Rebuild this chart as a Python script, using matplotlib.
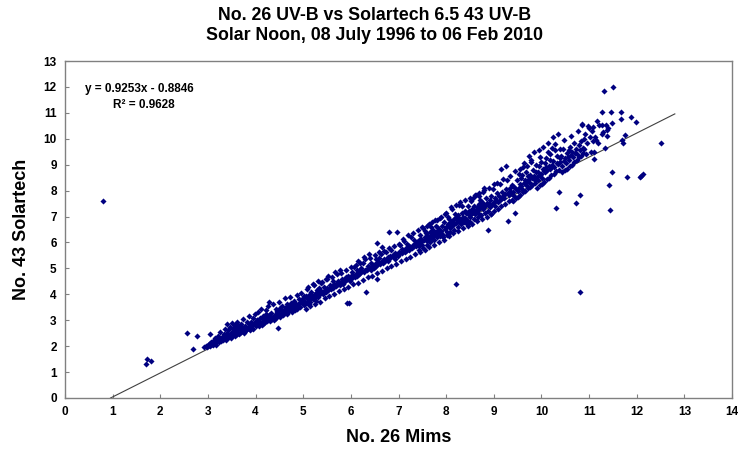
import numpy as np
import matplotlib
matplotlib.use("Agg")
import matplotlib.pyplot as plt

# ---------------- data ----------------
# main cloud, x = No. 26 Mims, y = No. 43 Solartech
mims_a = [2.92, 2.95, 2.98, 3.00, 3.02, 3.04, 3.06, 3.08, 3.10, 3.11,
          3.13, 3.15, 3.16, 3.18, 3.20, 3.21, 3.23, 3.25, 3.26, 3.28,
          3.30, 3.31, 3.33, 3.34, 3.36, 3.37, 3.38, 3.39, 3.40, 3.41,
          3.42, 3.43, 3.45, 3.46, 3.47, 3.48, 3.50, 3.51, 3.52, 3.53,
          3.55, 3.56, 3.57, 3.58, 3.60, 3.61, 3.62, 3.64, 3.65, 3.66,
          3.68, 3.69, 3.70, 3.72, 3.73, 3.75, 3.76, 3.78, 3.80, 3.82,
          3.83, 3.85, 3.86, 3.88, 3.89, 3.52, 3.58, 3.63, 3.71, 3.77]
sol_a = [1.98, 2.02, 1.96, 2.05, 2.10, 2.00, 2.15, 2.08, 2.04, 2.20,
         2.12, 2.30, 2.05, 2.18, 2.25, 2.40, 2.15, 2.28, 2.55, 2.20,
         2.35, 2.22, 2.48, 2.30, 2.68, 2.25, 2.42, 2.85, 2.33, 2.52,
         2.40, 2.62, 2.36, 2.75, 2.48, 2.30, 2.55, 2.90, 2.44, 2.68,
         2.50, 2.38, 2.80, 2.58, 2.45, 2.95, 2.62, 2.52, 2.72, 2.48,
         2.66, 2.85, 2.55, 2.60, 3.05, 2.70, 2.52, 2.78, 2.62, 2.92,
         2.68, 2.75, 3.15, 2.62, 2.84, 2.70, 2.66, 2.82, 2.74, 2.58]

mims_b = [3.90, 3.91, 3.93, 3.94, 3.95, 3.97, 3.98, 4.00, 4.01, 4.02,
          4.04, 4.05, 4.07, 4.08, 4.10, 4.11, 4.12, 4.14, 4.15, 4.17,
          4.18, 4.20, 4.21, 4.23, 4.24, 4.26, 4.27, 4.29, 4.30, 4.32,
          4.33, 4.35, 4.36, 4.38, 4.39, 4.03, 4.13, 4.22, 4.28, 4.37,
          4.40, 4.42, 4.43, 4.45, 4.46, 4.47, 4.49, 4.50, 4.52, 4.53,
          4.55, 4.56, 4.58, 4.59, 4.61, 4.62, 4.64, 4.65, 4.67, 4.68,
          4.70, 4.71, 4.73, 4.74, 4.76, 4.77, 4.79, 4.80, 4.82, 4.84,
          4.85, 4.87, 4.88, 4.44, 4.51, 4.57, 4.63, 4.69, 4.75, 4.81]
sol_b = [2.72, 2.95, 2.80, 3.10, 2.66, 2.88, 3.25, 2.78, 2.92, 3.02,
         2.85, 3.30, 2.76, 2.98, 3.08, 2.88, 3.45, 2.95, 3.15, 2.90,
         3.05, 2.92, 3.38, 3.12, 2.98, 3.55, 3.04, 3.20, 2.96, 3.12,
         3.28, 3.05, 3.62, 3.15, 3.02, 3.00, 2.82, 3.25, 3.70, 3.10,
         3.22, 3.08, 3.45, 3.18, 3.35, 2.71, 3.72, 3.25, 3.12, 3.40,
         3.28, 3.55, 3.20, 3.38, 3.85, 3.30, 3.45, 3.25, 3.62, 3.40,
         3.35, 3.50, 3.90, 3.42, 3.30, 3.58, 3.48, 3.75, 3.40, 3.55,
         3.62, 3.45, 3.98, 3.30, 3.48, 3.35, 3.52, 3.48, 3.65, 3.50]

mims_c = [4.90, 4.92, 4.93, 4.95, 4.96, 4.98, 4.99, 5.01, 5.02, 5.04,
          5.05, 5.07, 5.08, 5.10, 5.11, 5.13, 5.14, 5.16, 5.17, 5.19,
          5.20, 5.22, 5.23, 5.25, 5.26, 5.28, 5.29, 5.31, 5.32, 5.34,
          5.35, 5.37, 5.38, 4.97, 5.06, 5.15, 5.24, 5.33, 5.27, 5.12,
          5.40, 5.42, 5.43, 5.45, 5.47, 5.48, 5.50, 5.52, 5.53, 5.55,
          5.57, 5.58, 5.60, 5.62, 5.63, 5.65, 5.67, 5.68, 5.70, 5.72,
          5.73, 5.75, 5.77, 5.78, 5.80, 5.82, 5.84, 5.85, 5.87, 5.89]
sol_c = [3.62, 3.80, 3.52, 3.70, 4.05, 3.65, 3.85, 3.60, 3.95, 3.72,
         3.88, 3.68, 4.20, 3.80, 3.75, 3.98, 3.70, 4.10, 3.85, 3.92,
         3.82, 4.35, 3.95, 3.88, 4.05, 3.92, 4.15, 4.02, 3.90, 4.25,
         4.00, 4.12, 4.45, 3.78, 3.92, 3.88, 4.02, 4.08, 3.75, 3.62,
         4.10, 4.02, 4.30, 4.15, 4.60, 4.08, 4.25, 4.18, 4.72, 4.22,
         4.35, 4.20, 4.28, 4.50, 4.25, 4.40, 4.85, 4.32, 4.45, 4.38,
         4.52, 4.42, 4.35, 4.95, 4.48, 4.60, 4.40, 4.55, 4.50, 4.68]

mims_d = [5.90, 5.92, 5.93, 5.95, 5.97, 5.98, 6.00, 6.02, 6.03, 6.05,
          6.07, 6.08, 6.10, 6.12, 6.13, 6.15, 6.17, 6.18, 6.20, 6.22,
          6.23, 6.25, 6.27, 6.28, 6.30, 6.32, 6.33, 6.35, 6.37, 6.39,
          6.40, 6.42, 6.43, 6.45, 6.47, 6.48, 6.50, 6.52, 6.53, 6.55,
          6.55, 6.57, 6.58, 6.60, 6.62, 6.63, 6.65, 6.66, 6.68, 6.70,
          6.72, 6.73, 6.75, 6.77, 6.78, 6.80, 6.82, 6.83, 6.85, 6.88]
sol_d = [4.55, 3.68, 4.72, 4.62, 3.68, 4.50, 4.70, 4.85, 4.62, 4.75,
         5.05, 4.68, 4.80, 4.72, 4.92, 5.30, 4.78, 4.88, 4.82, 5.00,
         4.90, 5.20, 4.85, 5.45, 4.95, 4.07, 4.92, 5.10, 5.00, 5.55,
         5.02, 4.95, 5.20, 5.08, 5.12, 5.00, 5.15, 5.35, 5.10, 4.60,
         5.97, 5.18, 5.25, 5.40, 5.15, 5.55, 5.30, 5.82, 5.22, 5.38,
         5.30, 5.62, 5.35, 5.45, 5.28, 6.40, 5.48, 5.40, 5.70, 5.50]

mims_e = [6.90, 6.92, 6.93, 6.95, 6.97, 6.98, 7.00, 7.02, 7.03, 7.05,
          7.07, 7.08, 7.10, 7.12, 7.13, 7.15, 7.17, 7.18, 7.20, 7.22,
          7.23, 7.25, 7.27, 7.28, 7.30, 7.32, 7.33, 7.35, 7.37, 7.39,
          7.40, 7.42, 7.43, 7.45, 7.47, 7.48, 7.50, 7.52, 7.53, 7.55,
          7.57, 7.58, 7.60, 7.62, 7.63, 7.65, 7.67, 7.68, 7.70, 7.72,
          7.73, 7.75, 7.77, 7.78, 7.80, 7.82, 7.83, 7.85, 7.87, 7.89,
          7.44, 7.51, 7.59, 7.66, 7.74, 7.81, 7.88, 7.56, 7.69, 7.79]
sol_e = [5.42, 5.60, 5.35, 5.52, 6.40, 5.48, 5.65, 5.55, 5.90, 5.62,
         5.58, 5.75, 5.68, 6.05, 5.62, 5.80, 5.72, 5.95, 5.78, 5.70,
         5.88, 5.82, 6.20, 5.78, 5.92, 5.85, 6.10, 5.95, 5.88, 6.02,
         5.95, 6.10, 5.85, 6.30, 6.02, 6.15, 5.92, 6.55, 6.08, 6.20,
         6.12, 6.35, 6.05, 6.25, 6.70, 6.18, 6.40, 6.28, 6.15, 6.50,
         6.35, 6.25, 6.85, 6.42, 6.32, 6.55, 6.40, 6.48, 6.95, 6.38,
         5.70, 5.80, 5.90, 6.00, 6.10, 6.20, 6.25, 6.45, 6.58, 6.62]

mims_f = [7.90, 7.92, 7.93, 7.95, 7.97, 7.98, 8.00, 8.02, 8.03, 8.05,
          8.07, 8.08, 8.10, 8.12, 8.13, 8.15, 8.17, 8.18, 8.20, 8.22,
          8.23, 8.25, 8.27, 8.28, 8.30, 8.32, 8.33, 8.35, 8.37, 8.39,
          7.94, 8.01, 8.09, 8.16, 8.24, 8.31, 8.38, 8.04, 8.19, 8.34,
          8.40, 8.42, 8.43, 8.45, 8.47, 8.48, 8.50, 8.52, 8.53, 8.55,
          8.57, 8.58, 8.60, 8.62, 8.63, 8.65, 8.67, 8.68, 8.70, 8.72,
          8.73, 8.75, 8.77, 8.78, 8.80, 8.82, 8.83, 8.85, 8.87, 8.89,
          8.44, 8.51, 8.59, 8.66, 8.74, 8.81, 8.88, 8.56, 8.69, 8.79]
sol_f = [6.45, 6.62, 6.30, 6.80, 6.52, 7.10, 6.58, 6.40, 6.72, 6.65,
         6.90, 6.55, 6.78, 6.62, 7.30, 6.85, 6.70, 6.95, 6.75, 6.98,
         6.88, 7.05, 6.80, 7.45, 6.92, 6.85, 7.12, 6.98, 6.90, 7.20,
         6.20, 6.28, 6.40, 6.48, 6.60, 6.70, 6.78, 7.00, 7.08, 7.40,
         6.95, 7.15, 6.85, 7.40, 7.05, 7.22, 6.98, 7.60, 7.10, 7.30,
         7.18, 7.42, 7.08, 7.85, 7.25, 7.35, 7.15, 7.50, 7.28, 7.62,
         7.38, 7.55, 7.30, 7.95, 7.45, 7.40, 7.70, 7.52, 6.50, 7.48,
         6.70, 6.78, 6.90, 7.00, 7.05, 7.12, 7.20, 7.70, 7.78, 8.10]

mims_g = [8.90, 8.92, 8.93, 8.95, 8.97, 8.98, 9.00, 9.02, 9.03, 9.05,
          9.07, 9.08, 9.10, 9.12, 9.13, 9.15, 9.17, 9.18, 9.20, 9.22,
          9.23, 9.25, 9.26, 9.28, 9.30, 9.32, 9.33, 9.35, 9.37, 9.39,
          8.94, 9.01, 9.09, 9.16, 9.24, 9.31, 9.38, 9.06, 9.19, 9.34,
          9.40, 9.42, 9.43, 9.45, 9.47, 9.48, 9.50, 9.52, 9.53, 9.55,
          9.57, 9.58, 9.60, 9.62, 9.63, 9.65, 9.67, 9.68, 9.70, 9.72,
          9.73, 9.75, 9.77, 9.78, 9.80, 9.82, 9.83, 9.85, 9.87, 9.89,
          9.41, 9.46, 9.51, 9.56, 9.61, 9.66, 9.71, 9.76, 9.81, 9.86,
          9.44, 9.54, 9.64, 9.74, 9.84, 9.29, 9.59, 9.69, 9.79, 9.88]
sol_g = [7.45, 7.62, 7.35, 7.80, 7.50, 8.05, 7.55, 7.42, 7.72, 7.65,
         7.90, 7.58, 7.78, 7.65, 8.25, 8.84, 7.72, 7.95, 7.80, 7.70,
         7.88, 8.05, 8.95, 8.40, 7.92, 7.85, 8.12, 7.98, 7.90, 8.20,
         7.10, 7.20, 7.30, 7.40, 7.50, 7.60, 7.65, 8.30, 8.45, 8.55,
         7.95, 8.15, 7.80, 7.13, 8.05, 8.40, 8.00, 8.65, 8.10, 8.25,
         8.18, 8.50, 8.08, 8.90, 8.30, 8.42, 8.20, 8.70, 8.35, 8.55,
         8.45, 8.62, 8.30, 9.20, 8.50, 8.48, 8.80, 8.58, 8.40, 8.72,
         7.60, 7.70, 7.75, 7.85, 7.95, 8.00, 8.10, 8.15, 8.20, 8.30,
         8.75, 8.85, 9.05, 9.35, 9.50, 6.82, 8.60, 8.95, 9.10, 9.00]

mims_h = [9.90, 9.92, 9.93, 9.95, 9.97, 9.98, 10.00, 10.02, 10.03, 10.05,
          10.07, 10.08, 10.10, 10.12, 10.13, 10.15, 10.17, 10.18, 10.20, 10.22,
          10.23, 10.25, 10.27, 10.28, 10.30, 10.32, 10.33, 10.35, 10.37, 10.39,
          9.91, 9.96, 10.01, 10.06, 10.11, 10.16, 10.21, 10.26, 10.31, 10.36,
          9.94, 10.04, 10.14, 10.24, 10.34, 9.99, 10.09, 10.19, 10.29, 10.38,
          10.40, 10.42, 10.43, 10.45, 10.47, 10.48, 10.50, 10.52, 10.53, 10.55,
          10.57, 10.58, 10.60, 10.62, 10.63, 10.65, 10.67, 10.68, 10.70, 10.72,
          10.73, 10.75, 10.77, 10.78, 10.80, 10.82, 10.84, 10.85, 10.87, 10.89,
          10.44, 10.49, 10.54, 10.59, 10.64, 10.69, 10.74, 10.79, 10.83, 10.88]
sol_h = [8.52, 8.70, 8.40, 8.95, 8.60, 9.30, 8.65, 8.50, 8.85, 8.75,
         9.05, 8.70, 8.90, 8.78, 9.50, 8.95, 8.82, 9.20, 8.90, 9.65,
         9.00, 9.15, 8.92, 9.80, 7.33, 9.08, 9.35, 9.02, 7.94, 9.25,
         8.10, 8.20, 8.25, 8.35, 8.45, 8.50, 8.60, 8.65, 8.75, 8.80,
         9.55, 9.70, 9.85, 10.05, 10.20, 9.10, 9.25, 9.40, 9.55, 9.60,
         9.10, 9.35, 8.95, 9.60, 9.15, 9.95, 9.25, 9.05, 9.45, 9.30,
         9.55, 9.20, 9.70, 9.38, 10.10, 9.50, 9.28, 9.85, 9.45, 9.60,
         7.52, 9.40, 10.30, 9.75, 7.83, 9.55, 9.90, 10.54, 9.65, 10.00,
         8.70, 8.80, 8.85, 8.95, 9.00, 9.10, 9.20, 9.30, 9.35, 9.45]

# extra points widening the band between x = 5 and x = 9
mims_m = [5.05, 5.15, 5.25, 5.35, 5.45, 5.55, 5.65, 5.75, 5.85, 5.95,
          6.05, 6.15, 6.25, 6.35, 6.45, 6.55, 6.65, 6.75, 6.85, 6.95,
          5.10, 5.20, 5.30, 5.40, 5.50, 5.60, 5.70, 5.80, 5.90, 6.00,
          6.10, 6.20, 6.30, 6.40, 6.50, 6.60, 6.70, 6.80, 6.90, 7.00,
          7.05, 7.15, 7.25, 7.35, 7.45, 7.55, 7.65, 7.75, 7.85, 7.95,
          7.10, 7.20, 7.30, 7.40, 7.50, 7.60, 7.70, 7.80, 7.90, 8.00,
          8.05, 8.15, 8.25, 8.35, 8.45, 8.55, 8.65, 8.75, 8.85, 8.95,
          8.10, 8.20, 8.30, 8.40, 8.50, 8.60, 8.70, 8.80, 8.90, 9.00]
sol_m = [3.45, 3.55, 3.62, 3.72, 3.85, 3.95, 4.02, 4.12, 4.20, 4.30,
         4.38, 4.45, 4.55, 4.65, 4.72, 4.82, 4.90, 5.00, 5.08, 5.18,
         4.30, 4.40, 4.50, 4.48, 4.58, 4.68, 4.78, 4.82, 4.95, 5.05,
         5.12, 5.22, 5.35, 5.40, 5.50, 5.62, 5.68, 5.78, 5.88, 5.95,
         5.28, 5.35, 5.45, 5.55, 5.62, 5.72, 5.82, 5.90, 6.02, 6.10,
         6.15, 6.28, 6.35, 6.48, 6.58, 6.65, 6.78, 6.88, 6.98, 7.15,
         6.25, 6.35, 6.45, 6.55, 6.62, 6.72, 6.82, 6.92, 7.00, 7.08,
         7.35, 7.45, 7.55, 7.65, 7.72, 7.85, 7.92, 8.02, 8.12, 8.25]

mims_tail = [11.09, 11.13, 11.14, 11.18, 11.11, 11.20, 11.28, 11.35, 11.30, 11.37,
             11.39, 11.49, 11.28, 11.37, 11.00, 10.90, 10.92, 10.94, 10.96, 10.98,
             11.02, 11.04, 11.06, 11.08, 11.16]
sol_tail = [10.47, 10.08, 9.95, 9.84, 9.50, 10.54, 10.54, 10.54, 10.27, 10.35,
            10.40, 10.60, 10.20, 10.10, 10.40, 9.60, 10.20, 9.40, 9.85, 10.50,
            10.05, 9.50, 10.30, 9.90, 10.70]

# isolated points
mims_out = [0.80, 1.70, 1.72, 1.80, 2.56, 2.69, 2.77, 3.05, 8.21, 10.80,
            12.50, 11.32, 11.51, 11.28, 11.45, 11.68, 11.66, 11.87, 11.99, 11.76,
            11.70, 11.72, 11.49, 11.41, 11.80, 12.06, 12.10, 12.14, 11.43, 11.34,
            11.10, 10.86]
sol_out = [7.60, 1.30, 1.50, 1.42, 2.50, 1.90, 2.40, 2.48, 4.38, 4.07,
           9.84, 11.86, 11.98, 11.05, 11.05, 11.05, 10.77, 10.85, 10.66, 10.15,
           9.96, 9.85, 8.72, 8.22, 8.53, 8.53, 8.58, 8.65, 7.25, 9.65,
           9.22, 10.58]

# linear trend line reported on the chart
slope = 0.9253
intercept = -0.8846
r_squared = 0.9628
trend_x_max = 12.8

title = "No. 26 UV-B vs Solartech 6.5 43 UV-B\nSolar Noon, 08 July 1996 to 06 Feb 2010"
x_label = "No. 26 Mims"
y_label = "No. 43 Solartech"
x_ticks = list(range(0, 15))
y_ticks = list(range(0, 14))

# ---------------- plotting ----------------
mims = np.concatenate([mims_a, mims_b, mims_c, mims_d, mims_e, mims_f,
                       mims_g, mims_h, mims_m, mims_tail, mims_out])
sol = np.concatenate([sol_a, sol_b, sol_c, sol_d, sol_e, sol_f,
                      sol_g, sol_h, sol_m, sol_tail, sol_out])

plt.rcParams['font.family'] = ['Liberation Sans', 'DejaVu Sans']

fig = plt.figure(figsize=(7.5, 4.59), dpi=100)
ax = fig.add_axes([65 / 750, 1 - 398 / 459, (732 - 65) / 750, (398 - 61) / 459])

x0 = -intercept / slope
tx = np.array([x0, trend_x_max])
ax.plot(tx, slope * tx + intercept, color='#404040', lw=0.8, zorder=2)

ax.plot(mims, sol, linestyle='none', marker='D', markersize=3.1,
        color='#000080', markeredgewidth=0, zorder=3)

ax.set_xlim(0, 14)
ax.set_ylim(0, 13)
ax.set_xticks(x_ticks)
ax.set_yticks(y_ticks)
ax.tick_params(direction='in', length=3, width=0.8, color='#808080',
               labelsize=8.5, pad=6)
for lbl in ax.get_xticklabels() + ax.get_yticklabels():
    lbl.set_fontweight('bold')
for sp in ax.spines.values():
    sp.set_color('#808080')
    sp.set_linewidth(1.0)

ax.set_xlabel(x_label, fontsize=13, fontweight='bold', labelpad=8)
ax.set_ylabel(y_label, fontsize=13, fontweight='bold', labelpad=10)
fig.suptitle(title, fontsize=12.8, fontweight='bold', y=0.985, linespacing=1.25)

ax.text(0.42, 11.93, f"y = {slope}x - {abs(intercept)}", fontsize=8.5,
        fontweight='bold', va='center', ha='left')
ax.text(1.0, 11.3, f"R² = {r_squared}", fontsize=8.5,
        fontweight='bold', va='center', ha='left')

fig.savefig("out.png", dpi=100)
